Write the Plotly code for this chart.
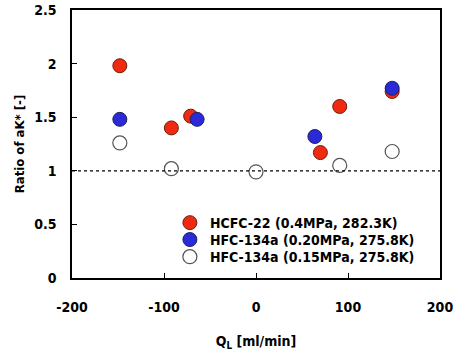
import plotly.graph_objects as go

red_x = [-148, -92, -71, 70, 91, 148]
red_y = [1.98, 1.40, 1.51, 1.17, 1.60, 1.74]
blue_x = [-148, -64, 64, 148]
blue_y = [1.48, 1.48, 1.32, 1.77]
white_x = [-148, -92, 0, 91, 148]
white_y = [1.26, 1.02, 0.99, 1.05, 1.18]
names = ["HCFC-22 (0.4MPa, 282.3K)", "HFC-134a (0.20MPa, 275.8K)", "HFC-134a (0.15MPa, 275.8K)"]
xticks = [-200, -100, 0, 100, 200]
yticks = [0, 0.5, 1, 1.5, 2, 2.5]
ylabels = ["0", "0.5", "1", "1.5", "2", "2.5"]

FONT = "DejaVu Sans Condensed"

fig = go.Figure()
fig.add_trace(go.Scatter(x=red_x, y=red_y, mode="markers", name=names[0], legend="legend",
                         marker=dict(size=14, color="#f02a10", line=dict(color="#6a2010", width=1))))
fig.add_trace(go.Scatter(x=blue_x, y=blue_y, mode="markers", name=names[1], legend="legend2",
                         marker=dict(size=14, color="#2a2ad8", line=dict(color="#20205a", width=1))))
fig.add_trace(go.Scatter(x=white_x, y=white_y, mode="markers", name=names[2], legend="legend3",
                         marker=dict(size=14, color="white", line=dict(color="#555555", width=1.2))))

fig.add_shape(type="line", x0=-200, x1=200, y0=1, y1=1, xref="x", yref="y",
              line=dict(color="black", width=1.2, dash="dot"))

def leg(y):
    return dict(x=0.266, y=y, xanchor="left", yanchor="middle",
                bgcolor="rgba(0,0,0,0)", font=dict(size=14, family=FONT, weight="bold"),
                itemwidth=30, borderwidth=0)

fig.update_layout(
    width=454, height=356,
    margin=dict(l=72, r=14, t=10, b=78),
    paper_bgcolor="white", plot_bgcolor="white",
    font=dict(family=FONT, size=14, color="black", weight="bold"),
    showlegend=True,
    legend=leg(0.205), legend2=leg(0.142), legend3=leg(0.078),
    xaxis=dict(range=[-200, 200], tickvals=xticks,
               ticktext=[str(v) for v in xticks],
               showgrid=False, zeroline=False, showline=True, mirror=True, automargin=False,
               linecolor="black", linewidth=1.5, ticks="inside", ticklen=5,
               tickcolor="black", tickfont=dict(size=14), ticklabelstandoff=15,
               title=dict(text="Q<sub>L</sub> [ml/min]", font=dict(size=14), standoff=23)),
    yaxis=dict(range=[0, 2.5], tickvals=yticks, ticktext=ylabels,
               showgrid=False, zeroline=False, showline=True, mirror=True, automargin=False,
               linecolor="black", linewidth=1.5, ticks="inside", ticklen=5,
               tickcolor="black", tickfont=dict(size=14), ticklabelstandoff=11,
               title=dict(text="Ratio of aK* [-]", font=dict(size=13), standoff=7)),
)

fig.write_html("out.html", config={"displayModeBar": False},
               post_script="document.body.style.margin='0px';")
